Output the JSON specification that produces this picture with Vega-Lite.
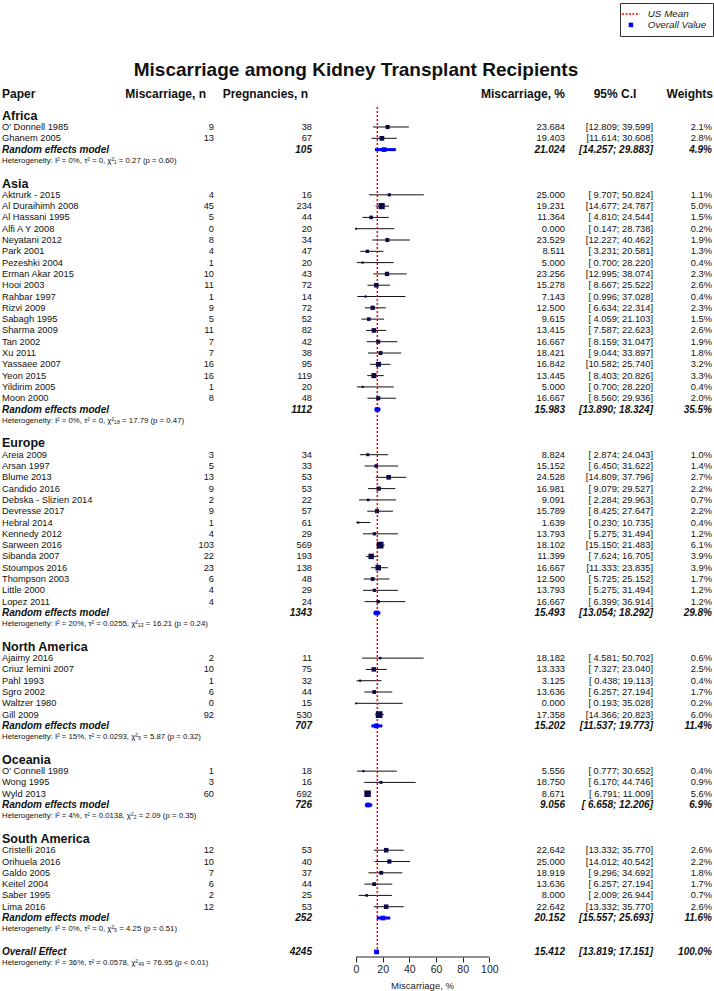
{
  "$schema": "https://vega.github.io/schema/vega-lite/v6.json",
  "width": 714,
  "height": 957,
  "autosize": "none",
  "padding": {"left": 0, "top": 0, "right": 0, "bottom": 34},
  "background": "white",
  "config": {"view": {"stroke": null}, "font": "Liberation Sans", "text": {"font": "Liberation Sans", "color": "#111"}},
  "datasets": {
    "refs": [{"usmean": 16, "lg": "US Mean"}]
  },
  "data": {"values": [
    {"kind": "title", "slot": -4.04, "label": "Miscarriage among Kidney Transplant Recipients"},
    {"kind": "colhead", "slot": -1.92, "label": "Paper", "hEvents": "Miscarriage, n", "hTotal": "Pregnancies, n", "hEst": "Miscarriage, %", "hCi": "95% C.I", "hW": "Weights"},
    {"kind": "region", "slot": 0, "label": "Africa"},
    {"kind": "study", "slot": 1, "label": "O' Donnell 1985", "events": 9, "total": 38, "est": 23.684, "lower": 12.809, "upper": 39.599, "ci": "[12.809; 39.599]", "weight": 2.1},
    {"kind": "study", "slot": 2, "label": "Ghanem 2005", "events": 13, "total": 67, "est": 19.403, "lower": 11.614, "upper": 30.608, "ci": "[11.614; 30.608]", "weight": 2.8},
    {"kind": "rem", "slot": 3, "label": "Random effects model", "total": 105, "est": 21.024, "lower": 14.257, "upper": 29.883, "ci": "[14.257; 29.883]", "weight": 4.9, "lg": "Overall Value"},
    {"kind": "het", "slot": 4, "label": "Heterogeneity: I² = 0%, τ² = 0, χ²₁ = 0.27 (p = 0.60)"},
    {"kind": "region", "slot": 6, "label": "Asia"},
    {"kind": "study", "slot": 7, "label": "Aktrurk - 2015", "events": 4, "total": 16, "est": 25.0, "lower": 9.707, "upper": 50.824, "ci": "[ 9.707; 50.824]", "weight": 1.1},
    {"kind": "study", "slot": 8, "label": "Al Duraihimh 2008", "events": 45, "total": 234, "est": 19.231, "lower": 14.677, "upper": 24.787, "ci": "[14.677; 24.787]", "weight": 5.0},
    {"kind": "study", "slot": 9, "label": "Al Hassani 1995", "events": 5, "total": 44, "est": 11.364, "lower": 4.81, "upper": 24.544, "ci": "[ 4.810; 24.544]", "weight": 1.5},
    {"kind": "study", "slot": 10, "label": "Alfi A Y 2008", "events": 0, "total": 20, "est": 0.0, "lower": 0.147, "upper": 28.738, "ci": "[ 0.147; 28.738]", "weight": 0.2},
    {"kind": "study", "slot": 11, "label": "Neyatani 2012", "events": 8, "total": 34, "est": 23.529, "lower": 12.227, "upper": 40.462, "ci": "[12.227; 40.462]", "weight": 1.9},
    {"kind": "study", "slot": 12, "label": "Park 2001", "events": 4, "total": 47, "est": 8.511, "lower": 3.231, "upper": 20.581, "ci": "[ 3.231; 20.581]", "weight": 1.3},
    {"kind": "study", "slot": 13, "label": "Pezeshki 2004", "events": 1, "total": 20, "est": 5.0, "lower": 0.7, "upper": 28.22, "ci": "[ 0.700; 28.220]", "weight": 0.4},
    {"kind": "study", "slot": 14, "label": "Erman Akar 2015", "events": 10, "total": 43, "est": 23.256, "lower": 12.995, "upper": 38.074, "ci": "[12.995; 38.074]", "weight": 2.3},
    {"kind": "study", "slot": 15, "label": "Hooi 2003", "events": 11, "total": 72, "est": 15.278, "lower": 8.667, "upper": 25.522, "ci": "[ 8.667; 25.522]", "weight": 2.6},
    {"kind": "study", "slot": 16, "label": "Rahbar 1997", "events": 1, "total": 14, "est": 7.143, "lower": 0.996, "upper": 37.028, "ci": "[ 0.996; 37.028]", "weight": 0.4},
    {"kind": "study", "slot": 17, "label": "Rizvi 2009", "events": 9, "total": 72, "est": 12.5, "lower": 6.634, "upper": 22.314, "ci": "[ 6.634; 22.314]", "weight": 2.3},
    {"kind": "study", "slot": 18, "label": "Sabagh 1995", "events": 5, "total": 52, "est": 9.615, "lower": 4.059, "upper": 21.103, "ci": "[ 4.059; 21.103]", "weight": 1.5},
    {"kind": "study", "slot": 19, "label": "Sharma 2009", "events": 11, "total": 82, "est": 13.415, "lower": 7.587, "upper": 22.623, "ci": "[ 7.587; 22.623]", "weight": 2.6},
    {"kind": "study", "slot": 20, "label": "Tan 2002", "events": 7, "total": 42, "est": 16.667, "lower": 8.159, "upper": 31.047, "ci": "[ 8.159; 31.047]", "weight": 1.9},
    {"kind": "study", "slot": 21, "label": "Xu 2011", "events": 7, "total": 38, "est": 18.421, "lower": 9.044, "upper": 33.897, "ci": "[ 9.044; 33.897]", "weight": 1.8},
    {"kind": "study", "slot": 22, "label": "Yassaee 2007", "events": 16, "total": 95, "est": 16.842, "lower": 10.582, "upper": 25.74, "ci": "[10.582; 25.740]", "weight": 3.2},
    {"kind": "study", "slot": 23, "label": "Yeon 2015", "events": 16, "total": 119, "est": 13.445, "lower": 8.403, "upper": 20.826, "ci": "[ 8.403; 20.826]", "weight": 3.3},
    {"kind": "study", "slot": 24, "label": "Yildirim 2005", "events": 1, "total": 20, "est": 5.0, "lower": 0.7, "upper": 28.22, "ci": "[ 0.700; 28.220]", "weight": 0.4},
    {"kind": "study", "slot": 25, "label": "Moon 2000", "events": 8, "total": 48, "est": 16.667, "lower": 8.56, "upper": 29.936, "ci": "[ 8.560; 29.936]", "weight": 2.0},
    {"kind": "rem", "slot": 26, "label": "Random effects model", "total": 1112, "est": 15.983, "lower": 13.89, "upper": 18.324, "ci": "[13.890; 18.324]", "weight": 35.5, "lg": "Overall Value"},
    {"kind": "het", "slot": 27, "label": "Heterogeneity: I² = 0%, τ² = 0, χ²₁₈ = 17.79 (p = 0.47)"},
    {"kind": "region", "slot": 29, "label": "Europe"},
    {"kind": "study", "slot": 30, "label": "Areia 2009", "events": 3, "total": 34, "est": 8.824, "lower": 2.874, "upper": 24.043, "ci": "[ 2.874; 24.043]", "weight": 1.0},
    {"kind": "study", "slot": 31, "label": "Arsan 1997", "events": 5, "total": 33, "est": 15.152, "lower": 6.45, "upper": 31.622, "ci": "[ 6.450; 31.622]", "weight": 1.4},
    {"kind": "study", "slot": 32, "label": "Blume 2013", "events": 13, "total": 53, "est": 24.528, "lower": 14.809, "upper": 37.796, "ci": "[14.809; 37.796]", "weight": 2.7},
    {"kind": "study", "slot": 33, "label": "Candido 2016", "events": 9, "total": 53, "est": 16.981, "lower": 9.079, "upper": 29.527, "ci": "[ 9.079; 29.527]", "weight": 2.2},
    {"kind": "study", "slot": 34, "label": "Debska - Slizien 2014", "events": 2, "total": 22, "est": 9.091, "lower": 2.284, "upper": 29.963, "ci": "[ 2.284; 29.963]", "weight": 0.7},
    {"kind": "study", "slot": 35, "label": "Devresse 2017", "events": 9, "total": 57, "est": 15.789, "lower": 8.425, "upper": 27.647, "ci": "[ 8.425; 27.647]", "weight": 2.2},
    {"kind": "study", "slot": 36, "label": "Hebral 2014", "events": 1, "total": 61, "est": 1.639, "lower": 0.23, "upper": 10.735, "ci": "[ 0.230; 10.735]", "weight": 0.4},
    {"kind": "study", "slot": 37, "label": "Kennedy 2012", "events": 4, "total": 29, "est": 13.793, "lower": 5.275, "upper": 31.494, "ci": "[ 5.275; 31.494]", "weight": 1.2},
    {"kind": "study", "slot": 38, "label": "Sarween 2016", "events": 103, "total": 569, "est": 18.102, "lower": 15.15, "upper": 21.483, "ci": "[15.150; 21.483]", "weight": 6.1},
    {"kind": "study", "slot": 39, "label": "Sibanda 2007", "events": 22, "total": 193, "est": 11.399, "lower": 7.624, "upper": 16.705, "ci": "[ 7.624; 16.705]", "weight": 3.9},
    {"kind": "study", "slot": 40, "label": "Stoumpos 2016", "events": 23, "total": 138, "est": 16.667, "lower": 11.333, "upper": 23.835, "ci": "[11.333; 23.835]", "weight": 3.9},
    {"kind": "study", "slot": 41, "label": "Thompson 2003", "events": 6, "total": 48, "est": 12.5, "lower": 5.725, "upper": 25.152, "ci": "[ 5.725; 25.152]", "weight": 1.7},
    {"kind": "study", "slot": 42, "label": "Little 2000", "events": 4, "total": 29, "est": 13.793, "lower": 5.275, "upper": 31.494, "ci": "[ 5.275; 31.494]", "weight": 1.2},
    {"kind": "study", "slot": 43, "label": "Lopez 2011", "events": 4, "total": 24, "est": 16.667, "lower": 6.399, "upper": 36.914, "ci": "[ 6.399; 36.914]", "weight": 1.2},
    {"kind": "rem", "slot": 44, "label": "Random effects model", "total": 1343, "est": 15.493, "lower": 13.054, "upper": 18.292, "ci": "[13.054; 18.292]", "weight": 29.8, "lg": "Overall Value"},
    {"kind": "het", "slot": 45, "label": "Heterogeneity: I² = 20%, τ² = 0.0255, χ²₁₃ = 16.21 (p = 0.24)"},
    {"kind": "region", "slot": 47, "label": "North America"},
    {"kind": "study", "slot": 48, "label": "Ajaimy 2016", "events": 2, "total": 11, "est": 18.182, "lower": 4.581, "upper": 50.702, "ci": "[ 4.581; 50.702]", "weight": 0.6},
    {"kind": "study", "slot": 49, "label": "Criuz lemini 2007", "events": 10, "total": 75, "est": 13.333, "lower": 7.327, "upper": 23.04, "ci": "[ 7.327; 23.040]", "weight": 2.5},
    {"kind": "study", "slot": 50, "label": "Pahl 1993", "events": 1, "total": 32, "est": 3.125, "lower": 0.438, "upper": 19.113, "ci": "[ 0.438; 19.113]", "weight": 0.4},
    {"kind": "study", "slot": 51, "label": "Sgro 2002", "events": 6, "total": 44, "est": 13.636, "lower": 6.257, "upper": 27.194, "ci": "[ 6.257; 27.194]", "weight": 1.7},
    {"kind": "study", "slot": 52, "label": "Waltzer 1980", "events": 0, "total": 15, "est": 0.0, "lower": 0.193, "upper": 35.028, "ci": "[ 0.193; 35.028]", "weight": 0.2},
    {"kind": "study", "slot": 53, "label": "Gill 2009", "events": 92, "total": 530, "est": 17.358, "lower": 14.366, "upper": 20.823, "ci": "[14.366; 20.823]", "weight": 6.0},
    {"kind": "rem", "slot": 54, "label": "Random effects model", "total": 707, "est": 15.202, "lower": 11.537, "upper": 19.773, "ci": "[11.537; 19.773]", "weight": 11.4, "lg": "Overall Value"},
    {"kind": "het", "slot": 55, "label": "Heterogeneity: I² = 15%, τ² = 0.0293, χ²₅ = 5.87 (p = 0.32)"},
    {"kind": "region", "slot": 57, "label": "Oceania"},
    {"kind": "study", "slot": 58, "label": "O' Connell 1989", "events": 1, "total": 18, "est": 5.556, "lower": 0.777, "upper": 30.652, "ci": "[ 0.777; 30.652]", "weight": 0.4},
    {"kind": "study", "slot": 59, "label": "Wong 1995", "events": 3, "total": 16, "est": 18.75, "lower": 6.17, "upper": 44.746, "ci": "[ 6.170; 44.746]", "weight": 0.9},
    {"kind": "study", "slot": 60, "label": "Wyld 2013", "events": 60, "total": 692, "est": 8.671, "lower": 6.791, "upper": 11.009, "ci": "[ 6.791; 11.009]", "weight": 5.6},
    {"kind": "rem", "slot": 61, "label": "Random effects model", "total": 726, "est": 9.056, "lower": 6.658, "upper": 12.206, "ci": "[ 6.658; 12.206]", "weight": 6.9, "lg": "Overall Value"},
    {"kind": "het", "slot": 62, "label": "Heterogeneity: I² = 4%, τ² = 0.0138, χ²₂ = 2.09 (p = 0.35)"},
    {"kind": "region", "slot": 64, "label": "South America"},
    {"kind": "study", "slot": 65, "label": "Cristelli 2016", "events": 12, "total": 53, "est": 22.642, "lower": 13.332, "upper": 35.77, "ci": "[13.332; 35.770]", "weight": 2.6},
    {"kind": "study", "slot": 66, "label": "Orihuela 2016", "events": 10, "total": 40, "est": 25.0, "lower": 14.012, "upper": 40.542, "ci": "[14.012; 40.542]", "weight": 2.2},
    {"kind": "study", "slot": 67, "label": "Galdo 2005", "events": 7, "total": 37, "est": 18.919, "lower": 9.296, "upper": 34.692, "ci": "[ 9.296; 34.692]", "weight": 1.8},
    {"kind": "study", "slot": 68, "label": "Keitel 2004", "events": 6, "total": 44, "est": 13.636, "lower": 6.257, "upper": 27.194, "ci": "[ 6.257; 27.194]", "weight": 1.7},
    {"kind": "study", "slot": 69, "label": "Saber 1995", "events": 2, "total": 25, "est": 8.0, "lower": 2.009, "upper": 26.944, "ci": "[ 2.009; 26.944]", "weight": 0.7},
    {"kind": "study", "slot": 70, "label": "Lima 2016", "events": 12, "total": 53, "est": 22.642, "lower": 13.332, "upper": 35.77, "ci": "[13.332; 35.770]", "weight": 2.6},
    {"kind": "rem", "slot": 71, "label": "Random effects model", "total": 252, "est": 20.152, "lower": 15.557, "upper": 25.693, "ci": "[15.557; 25.693]", "weight": 11.6, "lg": "Overall Value"},
    {"kind": "het", "slot": 72, "label": "Heterogeneity: I² = 0%, τ² = 0, χ²₅ = 4.25 (p = 0.51)"},
    {"kind": "overall", "slot": 74, "label": "Overall Effect", "total": 4245, "est": 15.412, "lower": 13.819, "upper": 17.151, "ci": "[13.819; 17.151]", "weight": 100.0, "lg": "Overall Value"},
    {"kind": "het", "slot": 75, "label": "Heterogeneity: I² = 36%, τ² = 0.0578, χ²₄₉ = 76.95 (p < 0.01)"}
  ]},
  "layer": [
    {
      "transform": [{"filter": {"field": "kind", "oneOf": ["study"]}}],
      "mark": {"type": "rule", "color": "#111", "strokeWidth": 1},
      "encoding": {
        "y": {"field": "slot", "type": "quantitative", "scale": {"domain": [-10.24, 74.45], "reverse": true, "nice": false, "zero": false}, "axis": null},
        "x": {"field": "lower", "type": "quantitative", "scale": {"domain": [-267, 268.5], "nice": false, "zero": false},
          "axis": {"values": [0, 20, 40, 60, 80, 100], "domain": false, "grid": false, "ticks": true, "tickSize": 5, "tickColor": "#222",
            "labelFontSize": 10.5, "labelColor": "#222", "labelPadding": 2, "labelFont": "Liberation Sans",
            "title": "Miscarriage, %", "titleFontSize": 9.5, "titleFontWeight": "normal", "titleColor": "#222", "titleFont": "Liberation Sans",
            "titleX": 422, "titleY": 23}},
        "x2": {"field": "upper"}
      }
    },
    {
      "data": {"name": "refs"},
      "mark": {"type": "rule", "strokeDash": [2, 2], "strokeWidth": 1.5},
      "encoding": {
        "x": {"field": "usmean", "type": "quantitative"},
        "y": {"datum": -0.77, "type": "quantitative"},
        "y2": {"datum": 74.2},
        "color": {"field": "lg", "type": "nominal",
          "scale": {"domain": ["US Mean", "Overall Value"], "range": ["#ff0000", "#0000ff"]},
          "legend": {"orient": "none", "legendX": 620, "legendY": 3, "title": null, "strokeColor": "#333", "padding": 6,
            "symbolType": "square", "symbolSize": 120, "labelFontSize": 9.8, "labelFontStyle": "italic", "labelColor": "#222",
            "labelFont": "Liberation Sans", "labelOffset": 12, "rowPadding": 0, "labelLimit": 200,
            "encode": {"symbols": {"update": {
              "shape": {"signal": "datum.value == 'US Mean' ? 'stroke' : 'square'"},
              "stroke": {"signal": "datum.value == 'US Mean' ? '#ff0000' : '#0000ff'"},
              "fill": {"signal": "datum.value == 'US Mean' ? 'transparent' : '#0000ff'"},
              "strokeDash": {"signal": "datum.value == 'US Mean' ? [2, 1.5] : [1, 0]"},
              "strokeWidth": {"signal": "datum.value == 'US Mean' ? 1.5 : 0"},
              "size": {"signal": "datum.value == 'US Mean' ? 320 : 20"},
              "opacity": {"value": 1}
            }}}}
        }
      }
    },
    {
      "transform": [{"filter": {"field": "kind", "equal": "study"}}],
      "mark": {"type": "point", "shape": "square", "filled": true, "opacity": 1, "color": "#0a0a4a"},
      "encoding": {
        "y": {"field": "slot", "type": "quantitative"},
        "x": {"field": "est", "type": "quantitative"},
        "size": {"field": "weight", "type": "quantitative", "scale": {"domain": [0, 6.1], "range": [2, 46]}, "legend": null}
      }
    },
    {
      "transform": [{"filter": {"field": "kind", "oneOf": ["rem", "overall"]}}],
      "mark": {"type": "rule", "color": "#0000ff", "strokeWidth": 3},
      "encoding": {
        "y": {"field": "slot", "type": "quantitative"},
        "x": {"field": "lower", "type": "quantitative"},
        "x2": {"field": "upper"}
      }
    },
    {
      "transform": [{"filter": {"field": "kind", "oneOf": ["rem", "overall"]}}],
      "mark": {"type": "point", "shape": "square", "filled": true, "opacity": 1, "size": 22},
      "encoding": {
        "y": {"field": "slot", "type": "quantitative"},
        "x": {"field": "est", "type": "quantitative"},
        "color": {"field": "lg", "type": "nominal"}
      }
    },
    {
      "data": {"name": "refs"},
      "mark": {"type": "rule", "color": "#222", "strokeWidth": 1},
      "encoding": {
        "x": {"datum": 0, "type": "quantitative"},
        "x2": {"datum": 100},
        "y": {"datum": 74.45, "type": "quantitative"}
      }
    },
    {
      "transform": [{"filter": {"field": "kind", "equal": "title"}}],
      "mark": {"type": "text", "fontSize": 19, "fontWeight": "bold", "align": "center", "baseline": "middle"},
      "encoding": {"y": {"field": "slot", "type": "quantitative"}, "x": {"datum": 0, "type": "quantitative"}, "text": {"field": "label"}}
    },
    {
      "transform": [{"filter": {"field": "kind", "equal": "colhead"}}],
      "mark": {"type": "text", "fontSize": 12, "fontWeight": "bold", "align": "left", "baseline": "middle"},
      "encoding": {"y": {"field": "slot", "type": "quantitative"}, "x": {"datum": -265.5, "type": "quantitative"}, "text": {"field": "label"}}
    },
    {
      "transform": [{"filter": {"field": "kind", "equal": "colhead"}}],
      "mark": {"type": "text", "fontSize": 12, "fontWeight": "bold", "align": "right", "baseline": "middle"},
      "encoding": {"y": {"field": "slot", "type": "quantitative"}, "x": {"datum": -112.5, "type": "quantitative"}, "text": {"field": "hEvents"}}
    },
    {
      "transform": [{"filter": {"field": "kind", "equal": "colhead"}}],
      "mark": {"type": "text", "fontSize": 12, "fontWeight": "bold", "align": "right", "baseline": "middle"},
      "encoding": {"y": {"field": "slot", "type": "quantitative"}, "x": {"datum": -36, "type": "quantitative"}, "text": {"field": "hTotal"}}
    },
    {
      "transform": [{"filter": {"field": "kind", "equal": "colhead"}}],
      "mark": {"type": "text", "fontSize": 12, "fontWeight": "bold", "align": "right", "baseline": "middle"},
      "encoding": {"y": {"field": "slot", "type": "quantitative"}, "x": {"datum": 156.75, "type": "quantitative"}, "text": {"field": "hEst"}}
    },
    {
      "transform": [{"filter": {"field": "kind", "equal": "colhead"}}],
      "mark": {"type": "text", "fontSize": 12, "fontWeight": "bold", "align": "center", "baseline": "middle"},
      "encoding": {"y": {"field": "slot", "type": "quantitative"}, "x": {"datum": 194.25, "type": "quantitative"}, "text": {"field": "hCi"}}
    },
    {
      "transform": [{"filter": {"field": "kind", "equal": "colhead"}}],
      "mark": {"type": "text", "fontSize": 12, "fontWeight": "bold", "align": "right", "baseline": "middle"},
      "encoding": {"y": {"field": "slot", "type": "quantitative"}, "x": {"datum": 267.75, "type": "quantitative"}, "text": {"field": "hW"}}
    },
    {
      "transform": [{"filter": {"field": "kind", "oneOf": ["region", "study", "rem", "overall", "het"]}}],
      "mark": {"type": "text", "align": "left", "baseline": "middle",
        "fontSize": {"expr": "datum.kind == 'region' ? 12.5 : (datum.kind == 'het' ? 7.8 : (datum.kind == 'study' ? 9.3 : 10))"},
        "fontWeight": {"expr": "(datum.kind == 'region' || datum.kind == 'rem' || datum.kind == 'overall') ? 'bold' : 'normal'"},
        "fontStyle": {"expr": "(datum.kind == 'rem' || datum.kind == 'overall') ? 'italic' : 'normal'"}},
      "encoding": {"y": {"field": "slot", "type": "quantitative"}, "x": {"datum": -265.5, "type": "quantitative"}, "text": {"field": "label"}}
    },
    {
      "transform": [{"filter": {"field": "kind", "equal": "study"}}],
      "mark": {"type": "text", "align": "right", "baseline": "middle", "fontSize": 9.3},
      "encoding": {"y": {"field": "slot", "type": "quantitative"}, "x": {"datum": -106.5, "type": "quantitative"}, "text": {"field": "events", "type": "nominal"}}
    },
    {
      "transform": [{"filter": {"field": "kind", "oneOf": ["study", "rem", "overall"]}}],
      "mark": {"type": "text", "align": "right", "baseline": "middle",
        "fontSize": {"expr": "datum.kind == 'study' ? 9.3 : 10"},
        "fontWeight": {"expr": "datum.kind == 'study' ? 'normal' : 'bold'"},
        "fontStyle": {"expr": "datum.kind == 'study' ? 'normal' : 'italic'"}},
      "encoding": {"y": {"field": "slot", "type": "quantitative"}, "x": {"datum": -33, "type": "quantitative"}, "text": {"field": "total", "type": "nominal"}}
    },
    {
      "transform": [{"filter": {"field": "kind", "oneOf": ["study", "rem", "overall"]}}],
      "mark": {"type": "text", "align": "right", "baseline": "middle",
        "fontSize": {"expr": "datum.kind == 'study' ? 9.3 : 10"},
        "fontWeight": {"expr": "datum.kind == 'study' ? 'normal' : 'bold'"},
        "fontStyle": {"expr": "datum.kind == 'study' ? 'normal' : 'italic'"}},
      "encoding": {"y": {"field": "slot", "type": "quantitative"}, "x": {"datum": 156.75, "type": "quantitative"}, "text": {"field": "est", "type": "quantitative", "format": ".3f"}}
    },
    {
      "transform": [{"filter": {"field": "kind", "oneOf": ["study", "rem", "overall"]}}],
      "mark": {"type": "text", "align": "right", "baseline": "middle",
        "fontSize": {"expr": "datum.kind == 'study' ? 9.3 : 10"},
        "fontWeight": {"expr": "datum.kind == 'study' ? 'normal' : 'bold'"},
        "fontStyle": {"expr": "datum.kind == 'study' ? 'normal' : 'italic'"}},
      "encoding": {"y": {"field": "slot", "type": "quantitative"}, "x": {"datum": 222.75, "type": "quantitative"}, "text": {"field": "ci", "type": "nominal"}}
    },
    {
      "transform": [{"filter": {"field": "kind", "oneOf": ["study", "rem", "overall"]}}, {"calculate": "format(datum.weight, '.1f') + '%'", "as": "wTxt"}],
      "mark": {"type": "text", "align": "right", "baseline": "middle",
        "fontSize": {"expr": "datum.kind == 'study' ? 9.3 : 10"},
        "fontWeight": {"expr": "datum.kind == 'study' ? 'normal' : 'bold'"},
        "fontStyle": {"expr": "datum.kind == 'study' ? 'normal' : 'italic'"}},
      "encoding": {"y": {"field": "slot", "type": "quantitative"}, "x": {"datum": 267, "type": "quantitative"}, "text": {"field": "wTxt", "type": "nominal"}}
    }
  ]
}
